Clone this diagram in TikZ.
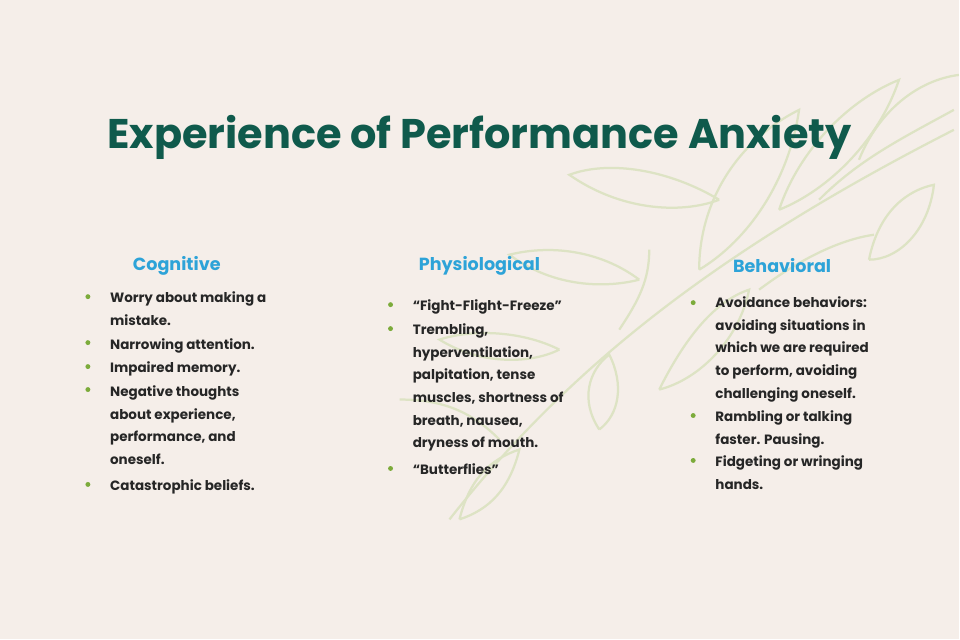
\documentclass[tikz,border=0pt]{standalone}
\usepackage{fontspec}
\setmainfont{Poppins}
\usetikzlibrary{positioning}
\definecolor{bgcol}{HTML}{F5EEE9}
\definecolor{titlecol}{HTML}{0F5A4C}
\definecolor{headcol}{HTML}{2DA3D8}
\definecolor{dotcol}{HTML}{7CAB3B}
\definecolor{leafcol}{HTML}{DDE3C4}
\tikzset{
  head/.style={font=\fontsize{12.5}{15}\selectfont\bfseries, text=headcol},
  item/.style={anchor=north west, inner sep=0pt, align=left,
    font=\fontsize{9.6}{16.1}\selectfont\bfseries, text=black!85},
  dot/.style={circle, fill=dotcol, inner sep=0pt, minimum size=3.5pt},
  leaf/.style={draw=leafcol, line width=1.6pt}
}
\begin{document}
\begin{tikzpicture}[x=0.025cm, y=-0.025cm]
  \fill[bgcol] (0,0) rectangle (960,640);
  % leaves
  \draw[leaf] (450,520) .. controls (560,380) and (700,260) .. (955,130);
  \draw[leaf] (820,200) .. controls (860,160) and (900,140) .. (955,110);
  \draw[leaf] (780,210) .. controls (800,150) and (850,100) .. (900,80) .. controls (880,140) and (830,190) .. (780,210);
  \draw[leaf] (700,270) .. controls (700,200) and (740,140) .. (800,110) .. controls (790,180) and (750,240) .. (700,270);
  \draw[leaf] (860,160) .. controls (880,110) and (920,80) .. (960,75);
  \draw[leaf] (870,260) .. controls (880,210) and (910,190) .. (935,185) .. controls (930,230) and (900,260) .. (870,260);
  \draw[leaf] (760,290) .. controls (800,260) and (840,240) .. (875,235);
  \draw[leaf] (720,200) .. controls (670,170) and (610,160) .. (570,175) .. controls (620,210) and (680,215) .. (720,200);
  \draw[leaf] (640,280) .. controls (600,250) and (550,245) .. (510,255) .. controls (550,285) and (600,290) .. (640,280);
  \draw[leaf] (560,350) .. controls (520,330) and (470,330) .. (440,340) .. controls (480,365) and (530,365) .. (560,350);
  \draw[leaf] (620,330) .. controls (640,300) and (650,280) .. (650,250);
  \draw[leaf] (660,390) .. controls (690,330) and (720,300) .. (750,290) .. controls (740,340) and (700,380) .. (660,390);
  \draw[leaf] (600,430) .. controls (580,400) and (590,370) .. (610,355) .. controls (625,385) and (620,415) .. (600,430);
  \draw[leaf] (500,440) .. controls (470,410) and (440,400) .. (400,400);
  \draw[leaf] (460,520) .. controls (470,480) and (490,460) .. (520,450) .. controls (510,490) and (490,510) .. (460,520);
  % title
  \node[font=\fontsize{29.5}{34}\selectfont\bfseries, text=titlecol] (title) at (480,138) {Experience of Performance Anxiety};
  % headings
  \node[head] (cog) at (177,266) {Cognitive};
  \node[head] (phy) at (480,266) {Physiological};
  \node[head] (beh) at (783,266) {Behavioral};
  % cognitive
  \node[item] (c1) at (110,292) {Worry about making a\\mistake.};
  \node[item] (c2) at (110,339) {Narrowing attention.};
  \node[item] (c3) at (110,362) {Impaired memory.};
  \node[item] (c4) at (110,386) {Negative thoughts\\about experience,\\performance, and\\oneself.};
  \node[item] (c5) at (110,480) {Catastrophic beliefs.};
  \foreach \n/\y in {c1/297,c2/343,c3/367,c4/390,c5/485}
    \node[dot] (d\n) at (88,\y) {};
  % physiological
  \node[item] (p1) at (413,300) {“Fight-Flight-Freeze”};
  \node[item] (p2) at (413,324) {Trembling,\\hyperventilation,\\palpitation, tense\\muscles, shortness of\\breath, nausea,\\dryness of mouth.};
  \node[item] (p3) at (413,464) {“Butterflies”};
  \foreach \n/\y in {p1/305,p2/329,p3/469}
    \node[dot] (d\n) at (391,\y) {};
  % behavioral
  \node[item] (b1) at (716,297) {Avoidance behaviors:\\avoiding situations in\\which we are required\\to perform, avoiding\\challenging oneself.};
  \node[item] (b2) at (716,411) {Rambling or talking\\faster. Pausing.};
  \node[item] (b3) at (716,456) {Fidgeting or wringing\\hands.};
  \foreach \n/\y in {b1/303,b2/416,b3/461}
    \node[dot] (d\n) at (694,\y) {};
\end{tikzpicture}
\end{document}
